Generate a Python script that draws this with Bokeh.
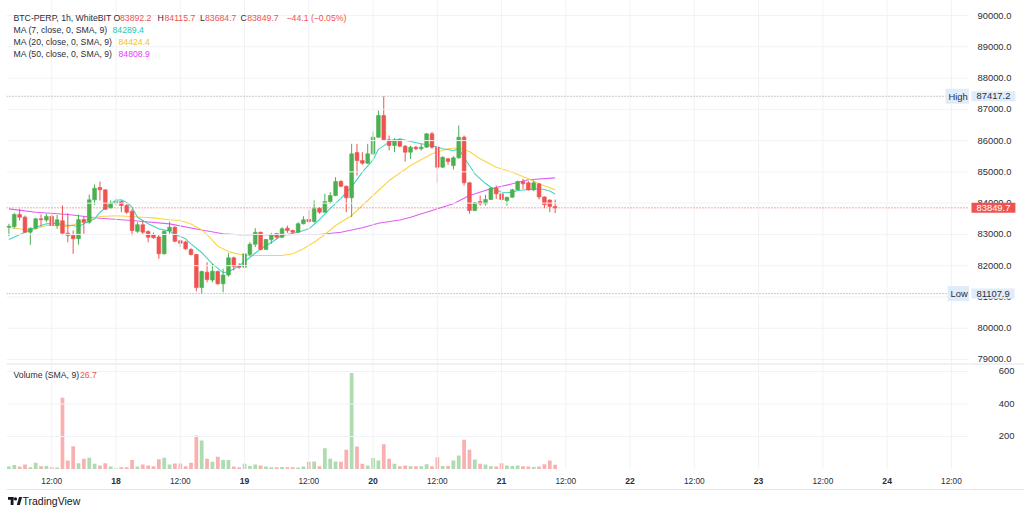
from bokeh.plotting import figure
from bokeh.layouts import column, row
from bokeh.models import ColumnDataSource, Range1d, Label, Span
from bokeh.core.properties import value
from bokeh.embed import file_html
from bokeh.resources import INLINE

# ---- hourly BTC-PERP bars (hour offsets counted from 18 00:00) ----
hours = list(range(-20, 83))
opens = [83230, 83250, 83640, 83551, 83070, 83198, 83498, 83460, 83575, 83285,
         83440, 83040, 82965, 82860, 83476, 83390, 84105, 84500, 84425, 83850,
         83997, 84050, 83924, 83740, 83100, 83310, 83090, 82990, 82920, 82380,
         83110, 83230, 82800, 82760, 82517, 82357, 81300, 81790, 81540, 81810,
         81420, 81700, 82250, 81990, 81950, 82360, 82687, 83070, 82517, 82837,
         83030, 82910, 83200, 83124, 83070, 83340, 83480, 83412, 83840, 83710,
         84050, 84245, 84690, 84540, 84170, 85620, 85363, 85277, 85576, 86110,
         86802, 86026, 85843, 86026, 85820, 85630, 85790, 85737, 85790, 86216,
         85790, 85150, 85420, 85200, 85450, 86110, 84650, 83764, 84050, 83978,
         84117, 84477, 84298, 84085, 84190, 84425, 84690, 84650, 84425, 84617,
         84200, 84100, 83892.2]
highs = [83340, 83690, 83818, 83600, 83220, 83530, 83640, 83650, 83710, 83620,
         83925, 83680, 83124, 83636, 83572, 84276, 84595, 84690, 84440, 84085,
         84138, 84080, 83980, 83818, 83390, 83444, 83130, 83060, 82980, 83124,
         83412, 83260, 82830, 82800, 82560, 82380, 81845, 82110, 82060, 81850,
         81900, 82400, 82290, 82080, 82400, 82750, 83200, 83090, 82860, 83050,
         83050, 83230, 83284, 83150, 83390, 83582, 83796, 84085, 83860, 84298,
         84350, 84830, 84740, 84565, 85897, 85897, 85630, 85897, 86290, 86962,
         87417.2, 86162, 86077, 86050, 85860, 85830, 85830, 85897, 86230, 86280,
         85843, 85491, 85440, 85500, 86482, 86162, 84680, 84040, 84244, 84266,
         84510, 84565, 84310, 84200, 84457, 84723, 84777, 84700, 84723, 84640,
         84213, 84120, 84115.7]
lows = [82940, 83180, 83444, 83050, 82667, 83157, 83250, 83390, 83260, 83180,
        82975, 82750, 82380, 82676, 83018, 83340, 83945, 84085, 83785, 83830,
        83924, 83710, 83660, 82965, 83050, 82990, 82750, 82860, 82220, 82357,
        83018, 82750, 82590, 82508, 82325, 81180, 81107.9, 81470, 81470, 81390,
        81150, 81650, 81845, 81900, 81920, 82300, 82590, 82485, 82508, 82700,
        82860, 82880, 83050, 82990, 83050, 83320, 83370, 83370, 83660, 83700,
        83978, 84220, 84510, 83710, 83550, 84883, 85225, 85250, 85535, 86090,
        86003, 85683, 85630, 85790, 85331, 85415, 85700, 85680, 85770, 85735,
        84650, 85130, 85225, 85075, 85415, 84563, 83660, 83740, 83924, 83924,
        84100, 84138, 84030, 83924, 84170, 84410, 84457, 84400, 84380, 84117,
        83840, 83710, 83684.7]
closes = [83260, 83636, 83551, 83070, 83198, 83498, 83470, 83575, 83285, 83465,
          83040, 82965, 82860, 83476, 83390, 84105, 84477, 84425, 83805, 83997,
          84050, 83924, 83710, 83124, 83310, 83070, 82910, 82890, 82380, 83100,
          83230, 82783, 82720, 82540, 82357, 81300, 81813, 81557, 81823, 81420,
          81700, 82250, 81973, 81950, 82380, 82687, 83070, 82517, 82837, 82990,
          82910, 83180, 83124, 83070, 83340, 83466, 83412, 83818, 83710, 84050,
          84245, 84690, 84540, 84170, 85576, 85363, 85277, 85576, 86110, 86802,
          86026, 85843, 86026, 85820, 85630, 85790, 85737, 85790, 86216, 85790,
          85150, 85470, 85331, 85450, 86110, 84650, 83764, 84010, 83978, 84117,
          84477, 84298, 84117, 84190, 84425, 84690, 84617, 84425, 84650, 84200,
          83950, 83893.8, 83849.7]
volumes = [15, 24, 15, 28, 11, 38, 17, 19, 11, 9,
           438, 52, 140, 36, 63, 69, 32, 21, 36, 15,
           5, 11, 11, 56, 15, 28, 21, 17, 60, 69,
           28, 34, 34, 17, 38, 206, 175, 63, 44, 75,
           56, 56, 15, 11, 32, 19, 28, 21, 15, 11,
           11, 13, 11, 11, 9, 15, 44, 46, 17, 128,
           63, 46, 44, 118, 590, 138, 32, 21, 67, 52,
           153, 63, 32, 17, 21, 17, 17, 17, 30, 17,
           73, 19, 19, 52, 83, 180, 118, 58, 32, 27,
           17, 15, 36, 21, 19, 21, 17, 15, 12, 15,
           30, 52, 26.7]

# ---- moving averages ----
ma7_hours = [-20, -17, -15, -13, -11, -10, -8, -7, -6, -4, -3, -1, 0, 1, 2, 3, 4, 6, 8, 10,
             11, 13, 14, 16, 18, 20, 21, 23, 25, 27, 29, 31, 34, 36, 38, 40, 42, 44, 46, 48,
             49, 51, 53, 55, 57, 59, 61, 63, 64, 65, 66, 67, 69, 70, 72, 74, 75, 77, 79, 80,
             81, 82]
ma7 = [82836, 83070, 83230, 83338, 83358, 83300, 83284, 83252, 83338, 83499,
       83710, 83978, 84090, 84106, 84020, 83870, 83550, 83338, 83178, 83108,
       82996, 82858, 82698, 82420, 82058, 81780, 81796, 82004, 82261, 82539,
       82741, 82964, 83070, 83179, 83470, 83830, 84150, 84520, 84990, 85380,
       85720, 85950, 86057, 85971, 85897, 85843, 85737, 85683, 85737, 85459,
       85203, 84938, 84627, 84509, 84349, 84340, 84404, 84436, 84458, 84436,
       84388, 84289.4]
ma20_hours = [-20, -16, -13, -12, -9, -7, -5, -3, 0, 2, 5, 7, 10, 12, 14, 16, 18, 19, 21, 24,
              28, 31, 33, 35, 37, 39, 41, 44, 46, 49, 51, 55, 59, 62, 64, 66, 68, 71, 74, 77,
              79, 82]
ma20 = [83230, 83124, 83284, 83284, 83252, 83358, 83499, 83572, 83595, 83582,
        83550, 83530, 83467, 83444, 83330, 83150, 82820, 82620, 82450, 82325,
        82325, 82325, 82379, 82539, 82750, 82996, 83284, 83604, 83924, 84404,
        84723, 85203, 85577, 85737, 85769, 85651, 85417, 85149, 84989, 84778,
        84618, 84424.4]
ma50_hours = [-20, -15, -9, -3, 3, 10, 16, 20, 23, 27, 31, 34, 38, 42, 46, 49, 53, 55, 59, 63,
              66, 70, 74, 77, 82]
ma50 = [83818, 83710, 83636, 83518, 83444, 83338, 83140, 83019, 82987, 82987,
        82987, 82997, 82997, 83070, 83211, 83358, 83460, 83550, 83764, 83978,
        84244, 84458, 84618, 84746, 84808.9]

# ---- axis ticks ----
price_ticks = list(range(79000, 90001, 1000))
volume_ticks = [200, 400, 600]
half_day_hours = [-12, 12, 36, 60, 84, 108, 132, 156]
half_day_labels = ["12:00"] * len(half_day_hours)
day_hours = [0, 24, 48, 72, 96, 120, 144]
day_labels = ["18", "19", "20", "21", "22", "23", "24"]

# ---- styling ----
UP, DOWN = "#4caf50", "#ef5350"
MA7_C, MA20_C, MA50_C = "#3fd4c4", "#fbd548", "#e15ef4"
MA7_T, MA20_T, MA50_T = "#22c9b4", "#f3c21a", "#e040fb"
TXT = "#2a2e39"
GRID = "#f0f2f6"
EDGE = "#e0e3eb"
BLUE_BG = "#e1ecfa"
FONT = "Liberation Sans"
LEFT = 6                   # left border of the panes
PANE_W, SCALE_W = 969, 55  # chart panes / price-scale column
H_PRICE, H_VOL, H_TIME = 363, 106, 44

x_range = Range1d(-20.45, 159.38)
price_range = Range1d(78872, 90480)
vol_range = Range1d(-3, 649)
scale_x = Range1d(0, SCALE_W)

src = ColumnDataSource(dict(
    hour=hours, open=opens, high=highs, low=lows, close=closes, volume=volumes,
    top=[max(o, c) for o, c in zip(opens, closes)],
    bottom=[min(o, c) for o, c in zip(opens, closes)],
    color=[UP if c >= o else DOWN for o, c in zip(opens, closes)],
))


def pane(height, y_range):
    f = figure(width=PANE_W, height=height, x_range=x_range, y_range=y_range,
               output_backend="svg", toolbar_location=None,
               x_axis_location=None, y_axis_location=None,
               min_border_left=LEFT, min_border_right=0,
               min_border_top=0, min_border_bottom=0)
    f.outline_line_color = None
    f.border_fill_color = "white"
    f.grid.visible = False
    return f


def scale(height, y_range):
    f = figure(width=SCALE_W, height=height, x_range=scale_x, y_range=y_range,
               output_backend="svg", toolbar_location=None,
               x_axis_location=None, y_axis_location=None,
               min_border_left=0, min_border_right=0,
               min_border_top=0, min_border_bottom=0)
    f.outline_line_color = None
    f.border_fill_color = "white"
    f.grid.visible = False
    return f


TAG_PAD = dict(left=5, right=5, top=2, bottom=2)
SMALL_PAD = dict(left=3, right=3, top=2, bottom=2)


def tag(fig, text, x, y, color, bg=None, y_units="data", size="9.4px", pad=TAG_PAD, left=0):
    kw = {}
    if bg is not None:
        kw["background_fill_color"] = bg
        kw["padding"] = pad
    fig.add_layout(Label(x=x - left, y=y, x_units="screen", y_units=y_units, text=text,
                         text_font=FONT, text_font_size=size, text_color=color,
                         text_baseline="middle", text_align="left", **kw))


def grid_lines(fig, yticks):
    for h in half_day_hours + day_hours:
        fig.add_layout(Span(location=h, dimension="height", line_color=GRID, line_width=1))
    for y in yticks:
        fig.add_layout(Span(location=y, dimension="width", line_color=GRID, line_width=1))


# ---------------- price pane ----------------
p = pane(H_PRICE, price_range)
grid_lines(p, price_ticks)

hi, lo, last = max(highs), min(lows), closes[-1]
for level, col in [(hi, "#9598a1"), (lo, "#9598a1"), (last, DOWN)]:
    p.add_layout(Span(location=level, dimension="width", line_color=col, line_dash="1 2", line_width=1))

p.line(ma50_hours, ma50, line_color=MA50_C, line_width=1.1)
p.line(ma20_hours, ma20, line_color=MA20_C, line_width=1.1)
p.line(ma7_hours, ma7, line_color=MA7_C, line_width=1.1)

p.segment(x0="hour", y0="low", x1="hour", y1="high", line_color="color", line_width=1, source=src)
p.vbar(x="hour", width=0.7, top="top", bottom="bottom", fill_color="color",
       line_color="color", line_width=0.6, source=src)

tag(p, "High", 945, hi, TXT, bg=BLUE_BG, pad=SMALL_PAD, left=LEFT)
tag(p, "Low", 947, lo, TXT, bg=BLUE_BG, pad=SMALL_PAD, left=LEFT)

# legend
change = closes[-1] - closes[-2]
pct = change / closes[-2] * 100
minus = "\u2212"
chg_txt = f"{minus if change < 0 else '+'}{abs(change):.1f} ({minus if pct < 0 else '+'}{abs(pct):.2f}%)"
LS = "8.7px"
rows = [H_PRICE - 17, H_PRICE - 29.5, H_PRICE - 41.5, H_PRICE - 53.3]
tag(p, "BTC-PERP, 1h, WhiteBIT", 13, rows[0], TXT, y_units="screen", size=LS, left=LEFT)
for letter, lx, val, vx in [("O", 113, opens[-1], 119.5), ("H", 157, highs[-1], 164),
                            ("L", 199.5, lows[-1], 204.5), ("C", 240, closes[-1], 246.7)]:
    tag(p, letter, lx, rows[0], TXT, y_units="screen", size=LS, left=LEFT)
    tag(p, f"{val:.1f}", vx, rows[0], DOWN, y_units="screen", size=LS, left=LEFT)
tag(p, chg_txt, 286, rows[0], DOWN, y_units="screen", size=LS, left=LEFT)
for txt, vals, col, vx, r in [("MA (7, close, 0, SMA, 9)", ma7, MA7_T, 112, rows[1]),
                              ("MA (20, close, 0, SMA, 9)", ma20, MA20_T, 118, rows[2]),
                              ("MA (50, close, 0, SMA, 9)", ma50, MA50_T, 118, rows[3])]:
    tag(p, txt, 13, r, TXT, y_units="screen", size=LS, left=LEFT)
    tag(p, f"{vals[-1]:.1f}", vx, r, col, y_units="screen", size=LS, left=LEFT)

# price scale
ps = scale(H_PRICE, price_range)
ps.text(x=[8] * len(price_ticks), y=price_ticks, text=[f"{t:.1f}" for t in price_ticks],
        text_font=value(FONT), text_font_size="9.4px", text_color=TXT,
        text_align="left", text_baseline="middle")
tag(ps, f"{hi:.1f}", 2, hi, TXT, bg=BLUE_BG)
tag(ps, f"{lo:.1f}", 2, lo, TXT, bg=BLUE_BG)
tag(ps, f"{last:.1f}", 2, last, "white", bg=DOWN)

# ---------------- volume pane ----------------
v = pane(H_VOL, vol_range)
grid_lines(v, volume_ticks)
v.add_layout(Span(location=vol_range.end, dimension="width", line_color=EDGE, line_width=2))
v.vbar(x="hour", width=0.7, top="volume", bottom=0, fill_color="color", fill_alpha=0.45,
       line_color=None, source=src)
tag(v, "Volume (SMA, 9)", 13, H_VOL - 11, TXT, y_units="screen", size=LS, left=LEFT)
tag(v, f"{volumes[-1]:.1f}", 79.5, H_VOL - 11, DOWN, y_units="screen", size=LS, left=LEFT)

vs = scale(H_VOL, vol_range)
vs.add_layout(Span(location=vol_range.end, dimension="width", line_color=EDGE, line_width=2))
vs.text(x=[45] * len(volume_ticks), y=volume_ticks, text=[str(t) for t in volume_ticks],
        text_font=value(FONT), text_font_size="9.4px", text_color=TXT,
        text_align="right", text_baseline="middle")

# ---------------- time scale + footer ----------------
c = pane(H_TIME, Range1d(0, H_TIME))
c.add_layout(Span(location=24, dimension="width", line_color=EDGE, line_width=1))
c.text(x=half_day_hours, y=[33] * len(half_day_hours), text=half_day_labels,
       text_font=value(FONT), text_font_size="8.3px", text_color=TXT,
       text_align="center", text_baseline="middle")
c.text(x=day_hours, y=[33] * len(day_hours), text=day_labels,
       text_font=value(FONT), text_font_size="8.6px", text_font_style="bold", text_color=TXT,
       text_align="center", text_baseline="middle")

# TradingView mark
span_h = x_range.end - x_range.start
px_w = PANE_W - LEFT


def hx(px):
    return x_range.start + (px - LEFT) * span_h / px_w


INK = "#131722"
c.quad(left=[hx(7.5)], right=[hx(13)], top=[16.5], bottom=[13.8], fill_color=INK, line_color=None)
c.quad(left=[hx(10.2)], right=[hx(13)], top=[16.5], bottom=[8.5], fill_color=INK, line_color=None)
c.scatter(x=[hx(15)], y=[14.6], size=3.2, fill_color=INK, line_color=None)
c.patch(x=[hx(16.3), hx(19.3), hx(21.6), hx(18.6)], y=[8.5, 8.5, 16.5, 16.5], fill_color=INK, line_color=None)
tag(c, "TradingView", 22, 12.5, INK, y_units="screen", size="10.5px", left=LEFT)

cs = scale(H_TIME, Range1d(0, H_TIME))
cs.add_layout(Span(location=24, dimension="width", line_color=EDGE, line_width=1))

layout = row(column(p, v, c), column(ps, vs, cs))
open("out.html", "w").write(file_html(layout, INLINE))
